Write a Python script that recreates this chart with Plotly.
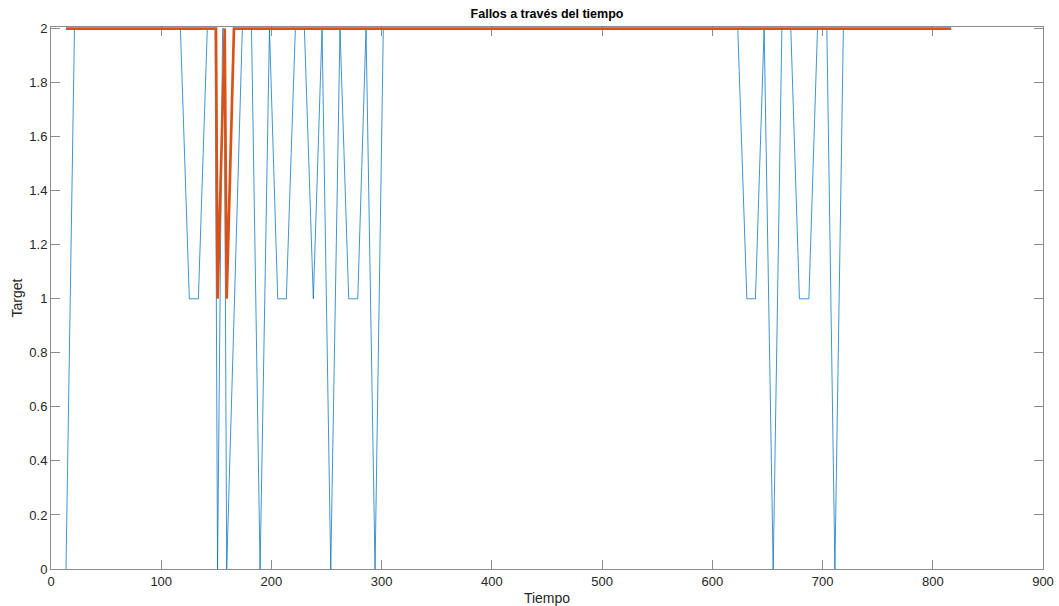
import plotly.graph_objects as go

# Target signal (thin blue line)
target_t = [13.6, 21.3, 117.4, 125.5, 133.7, 141.8, 148.9, 151.1, 155.7, 157.1,
            159.4, 173.6, 181.9, 189.7, 198.2, 205.7, 213.5, 221.7, 229.9, 238.0,
            245.9, 253.8, 262.2, 270.1, 278.3, 285.8, 294.0, 301.5, 623.1, 631.3,
            639.1, 647.0, 655.2, 663.1, 671.2, 679.0, 687.6, 695.4, 703.9, 711.2,
            718.9, 816.7]
target_y = [0, 2, 2, 1, 1, 2, 2, 0, 2, 2,
            0, 2, 2, 0, 2, 1, 1, 2, 2, 1,
            2, 0, 2, 1, 1, 2, 0, 2, 2, 1,
            1, 2, 0, 2, 2, 1, 1, 2, 2, 0,
            2, 2]

# Predicted signal (thick orange line)
pred_t = [13.6, 149.7, 151.1, 157.6, 159.4, 166.0, 816.7]
pred_y = [2, 2, 1, 2, 1, 2, 2]

x_ticks = [0, 100, 200, 300, 400, 500, 600, 700, 800, 900]
y_ticks = [0, 0.2, 0.4, 0.6, 0.8, 1, 1.2, 1.4, 1.6, 1.8, 2]

FONT = "Liberation Sans, Arial, Helvetica, sans-serif"
AXIS = "#262626"

# small headroom so the thick line at y=2 is not clipped by the plot area
Y_TOP = 2.006
PLOT_H = 540 * Y_TOP / 2

fig = go.Figure()
fig.add_trace(go.Scatter(x=target_t, y=target_y, mode="lines",
                         line=dict(color="#0072BD", width=0.75),
                         showlegend=False))
fig.add_trace(go.Scatter(x=pred_t, y=pred_y, mode="lines",
                         line=dict(color="#D95319", width=2.7),
                         showlegend=False))

axis_common = dict(
    showgrid=False, zeroline=False, showline=True, mirror="ticks",
    linecolor="#8c8c8c", linewidth=1, ticks="inside", ticklen=9,
    tickcolor="#8c8c8c", tickwidth=1, layer="below traces",
    tickfont=dict(family=FONT, size=13, color=AXIS),
    automargin=False,
)

fig.update_layout(
    width=1059, height=606,
    margin=dict(l=51, r=16, t=606 - 37 - PLOT_H, b=37),
    paper_bgcolor="white", plot_bgcolor="white",
    font=dict(family=FONT, color=AXIS),
    title=dict(text="<b>Fallos a través del tiempo</b>",
               x=0.5, xref="paper", xanchor="center",
               y=1, yref="container", yanchor="top", pad=dict(t=9),
               font=dict(family=FONT, size=12.5, color="#000000")),
    xaxis=dict(range=[0, 900], tickvals=x_ticks,
               title=dict(text="Tiempo", standoff=6,
                          font=dict(family=FONT, size=14, color=AXIS)),
               **axis_common),
    yaxis=dict(range=[0, Y_TOP], tickvals=y_ticks,
               title=dict(text="Target", standoff=3,
                          font=dict(family=FONT, size=14, color=AXIS)),
               **axis_common),
)

fig.write_html("out.html")
